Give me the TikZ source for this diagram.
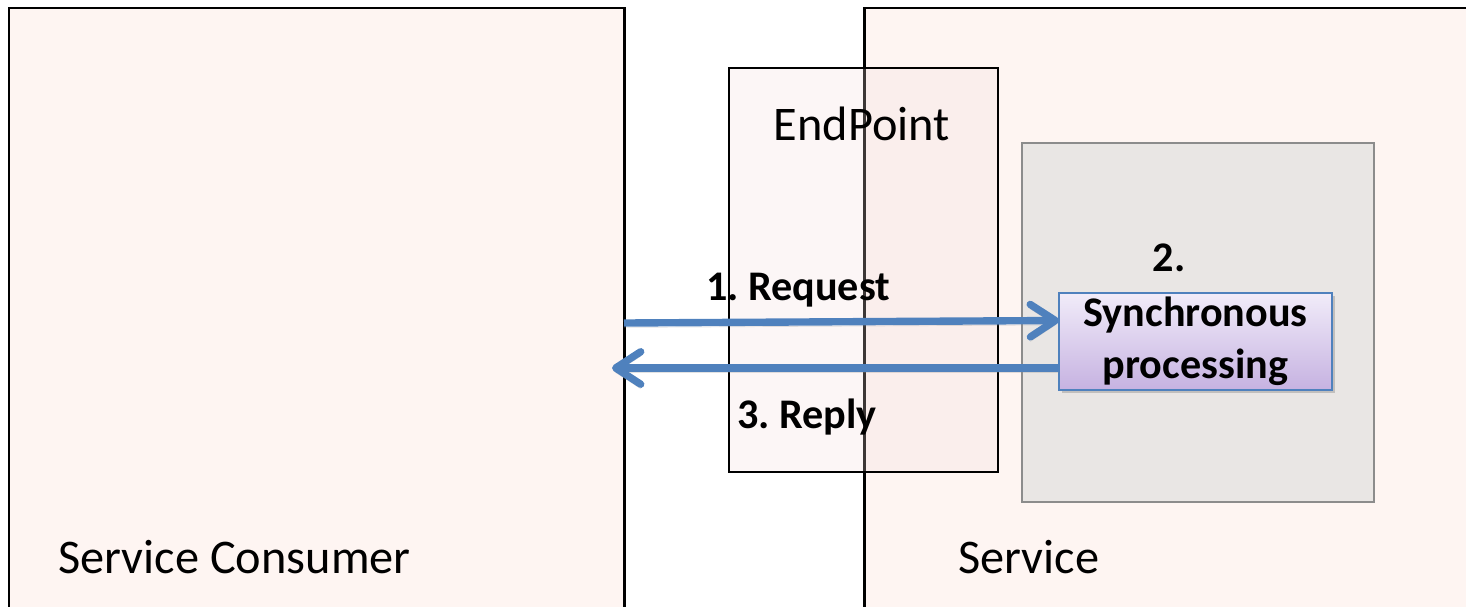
\documentclass[tikz,border=0pt]{standalone}
\usepackage{fontspec}
\setmainfont{Carlito}
\usepackage{tikz}
\usetikzlibrary{arrows.meta, positioning, calc, shadows}
\frenchspacing
\definecolor{panelfill}{HTML}{FEF5F2}
\definecolor{endfill}{HTML}{F2DCDB}
\definecolor{hostfill}{HTML}{E9E6E4}
\definecolor{hostline}{HTML}{8C8C8C}
\definecolor{msgblue}{HTML}{4F81BD}
\definecolor{proctop}{HTML}{F1ECF9}
\definecolor{procbot}{HTML}{C6B2E1}
\tikzset{
		panel/.style={draw, line width=1.7pt, fill=panelfill, anchor=north west, inner sep=0pt, outer sep=0pt},
		endpoint box/.style={draw, line width=1.1pt, fill=endfill, fill opacity=0.25, anchor=north west, inner sep=0pt, outer sep=0pt},
		host box/.style={draw=hostline, line width=1.1pt, fill=hostfill, anchor=north west, inner sep=0pt, outer sep=0pt},
		proc box/.style={draw=msgblue, line width=0.7pt, top color=proctop, bottom color=procbot, anchor=north west, outer sep=0pt,
			inner ysep=0pt, drop shadow={shadow xshift=0.05cm, shadow yshift=-0.06cm, opacity=0.3, fill=black!60},
			align=center, font=\bfseries\fontsize{24}{29.5}\selectfont},
		panel label/.style={inner sep=0pt, font=\fontsize{27.5}{32}\selectfont},
		step label/.style={font=\bfseries\fontsize{24}{28}\selectfont},
		message/.style={draw=msgblue, line width=4.2pt,
			preaction={draw=black!45, opacity=0.25, transform canvas={yshift=-2.5pt}}}
	}
\begin{document}
\begin{tikzpicture}[>={Straight Barb[length=5mm, width=6.5mm, round]}]
				\useasboundingbox (0,0) rectangle (29.32,-12.12);
				% the two sides
				\node[panel, minimum width=12.3cm, minimum height=12.24cm]  (consumer) at (0.18,-0.16)  {};
				\node[panel, minimum width=12.5cm, minimum height=12.24cm]  (service)  at (17.28,-0.16) {};
				\node[host box, minimum width=7.04cm, minimum height=7.18cm] (host)    at (20.44,-2.86) {};
				\node[endpoint box, minimum width=5.38cm, minimum height=8.08cm] (endpoint) at (14.58,-1.36) {};
				\node[proc box, minimum width=5.46cm, minimum height=1.94cm] (proc) at (21.18,-5.86) {Synchronous\\processing};
				
				\node[panel label] (endpoint label) at (17.24,-2.48) {EndPoint};
				\node[panel label, anchor=base west] (consumer label) at (1.16,-11.46) {Service Consumer};
				\node[panel label, anchor=base west] (service label)  at (19.16,-11.46) {Service};
				
				% messages
				\coordinate (req start) at ($(consumer.north east)+(0,-6.30)$);
				\coordinate (reply end) at ($(consumer.north east)+(-0.24,-7.20)$);
				\draw[->, message] (req start) -- ($(proc.west)+(0,0.42)$);
				\draw[->, message] ($(proc.west)+(0,-0.53)$) -- (reply end);
				
				\node[step label] (req label)   at (15.96,-5.80) {1. Request};
				\node[step label] (proc label)  at (23.38,-5.16) {2.};
				\node[step label] (reply label) at (16.14,-8.34) {3. Reply};
			\end{tikzpicture}
\end{document}
